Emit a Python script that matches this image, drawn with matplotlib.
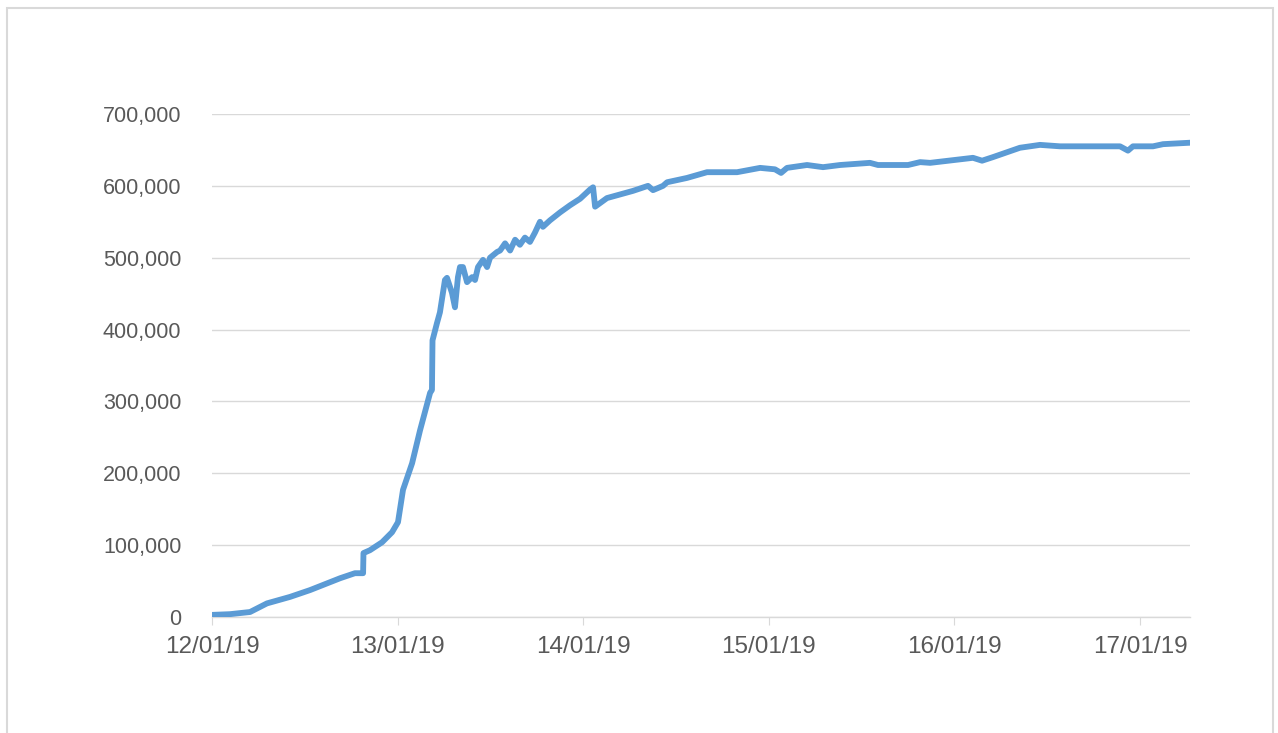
import numpy as np
import pandas as pd
import matplotlib
matplotlib.use('Agg')
import matplotlib.pyplot as plt
import matplotlib.dates as mdates
from matplotlib.ticker import FuncFormatter
from matplotlib.patches import Rectangle

# time in days since 12/01/19 00:00, cumulative count
days = [0.000, 0.097, 0.205, 0.296, 0.420, 0.528, 0.690, 0.770, 0.814, 0.816,
        0.851, 0.916, 0.970, 1.002, 1.029, 1.078, 1.121, 1.175, 1.185, 1.188,
        1.212, 1.228, 1.255, 1.266, 1.293, 1.309, 1.325, 1.336, 1.352, 1.374,
        1.401, 1.417, 1.433, 1.460, 1.482, 1.498, 1.536, 1.552, 1.579, 1.606,
        1.633, 1.659, 1.686, 1.713, 1.740, 1.767, 1.783, 1.821, 1.875, 1.929,
        1.983, 2.037, 2.053, 2.064, 2.128, 2.268, 2.349, 2.376, 2.430, 2.452,
        2.559, 2.667, 2.829, 2.953, 3.033, 3.066, 3.098, 3.206, 3.292, 3.384,
        3.545, 3.588, 3.750, 3.815, 3.869, 4.100, 4.149, 4.208, 4.353, 4.461,
        4.569, 4.892, 4.935, 4.962, 5.070, 5.124, 5.269]
counts = [3000, 4000, 7000, 19000, 28000, 37500, 54000, 61000, 61000, 89000,
          93000, 104000, 118000, 132000, 177000, 214000, 260000, 312000, 316000, 385000,
          409000, 424000, 469000, 472000, 451000, 431000, 473000, 487000, 487000, 466000,
          473000, 469000, 487000, 497000, 487000, 500000, 508000, 510000, 520000, 510000,
          525000, 518000, 528000, 522000, 535000, 550000, 543000, 552000, 563000, 573000,
          582000, 595000, 598000, 571000, 583000, 593000, 600000, 594000, 600000, 605000,
          611000, 619000, 619000, 625000, 623000, 618000, 625000, 629000, 626000, 629000,
          632000, 629000, 629000, 633000, 632000, 639000, 635000, 640000, 653000, 657000,
          655000, 655000, 649000, 655000, 655000, 658000, 660000]

start = pd.Timestamp('2019-01-12')
times = start + pd.to_timedelta(days, unit='D')

fig = plt.figure(figsize=(12.78, 7.33), dpi=100)
ax = fig.add_axes([0.1659, 0.1582, 0.7652, 0.6863])

ax.plot(times, counts, color='#5B9BD5', linewidth=4.2, solid_joinstyle='round', zorder=3)

ax.set_ylim(0, 700000)
ax.set_xlim(start, start + pd.Timedelta(days=5.269))
ax.set_yticks(np.arange(0, 700001, 100000))
ax.yaxis.set_major_formatter(FuncFormatter(lambda v, p: f'{int(v):,}'))
ax.xaxis.set_major_locator(mdates.DayLocator())
ax.xaxis.set_major_formatter(mdates.DateFormatter('%d/%m/%y'))

ax.grid(axis='y', color='#D9D9D9', linewidth=1)
ax.set_axisbelow(True)
for s in ['top', 'right', 'left']:
    ax.spines[s].set_visible(False)
ax.spines['bottom'].set_color('#D9D9D9')
ax.spines['bottom'].set_linewidth(1)
ax.tick_params(axis='y', length=0, pad=22, labelsize=15.5, labelcolor='#595959')
ax.tick_params(axis='x', length=6, color='#D9D9D9', pad=8, labelsize=17.5, labelcolor='#595959')
for lab in ax.get_xticklabels() + ax.get_yticklabels():
    lab.set_fontfamily('Liberation Sans')

# light frame around chart area
fig.patches.append(Rectangle((7 / 1278, -0.01), 1266 / 1278, 1 - 8 / 733 + 0.01,
                             transform=fig.transFigure, fill=False,
                             edgecolor='#D9D9D9', linewidth=1.5))

fig.savefig('out.png', dpi=100)
